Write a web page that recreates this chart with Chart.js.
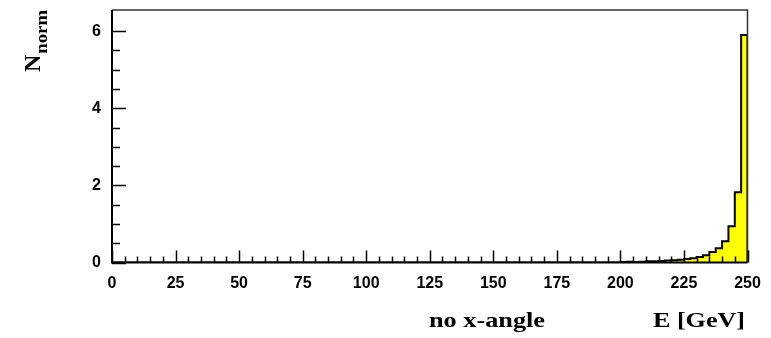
<!DOCTYPE html>
<html>
<head>
<meta charset="utf-8">
<title>E spectrum, no x-angle</title>
<script src="https://cdn.jsdelivr.net/npm/chart.js@4.4.1/dist/chart.umd.min.js"></script>
<style>
  html, body { margin: 0; padding: 0; background: #fff; }
  #wrap { width: 771px; height: 338px; }
</style>
</head>
<body>
<div id="wrap"><canvas id="hist" width="771" height="338"></canvas></div>
<script>
// histogram binning: 100 bins of 2.5 GeV from 0 to 250
const BIN_WIDTH = 2.5;
const X_MIN = 0;
const X_MAX = 250;
const Y_MAX = 6.55;

// normalised counts per bin, bin 0 = [0, 2.5)
const counts = [
  0, 0, 0, 0, 0, 0, 0, 0, 0, 0,
  0, 0, 0, 0, 0, 0, 0, 0, 0, 0,
  0, 0, 0, 0, 0, 0, 0, 0, 0, 0,
  0, 0, 0, 0, 0, 0, 0, 0, 0, 0,
  0, 0, 0, 0, 0, 0, 0, 0, 0, 0,
  0, 0, 0, 0, 0, 0, 0, 0, 0, 0,
  0, 0, 0, 0, 0, 0, 0, 0, 0, 0,
  0, 0, 0, 0, 0, 0, 0, 0, 0, 0,
  0.01, 0.02, 0.01, 0.02, 0.03, 0.03, 0.04, 0.05, 0.06, 0.07,
  0.09, 0.11, 0.14, 0.19, 0.27, 0.37, 0.55, 0.94, 1.82, 5.9,
];

const xTickLabels = [0, 25, 50, 75, 100, 125, 150, 175, 200, 225, 250];
const yTickLabels = [0, 2, 4, 6];

const xTitle = "E [GeV]";
const runLabel = "no x-angle";

const SERIF = "'Liberation Serif', 'DejaVu Serif', serif";
const SANS = "'Liberation Sans', Arial, sans-serif";

// step outline: one point per bin low edge, then close down at the top edge
const outline = counts.map((v, i) => ({ x: X_MIN + i * BIN_WIDTH, y: v }));
outline.push({ x: X_MAX, y: counts[counts.length - 1] });
outline.push({ x: X_MAX, y: 0 });

// draw text squeezed/stretched to span [left, right]
function fitText(ctx, text, left, right, baseline) {
  const w = ctx.measureText(text).width;
  ctx.save();
  ctx.translate(left, baseline);
  ctx.scale((right - left) / w, 1);
  ctx.textAlign = "left";
  ctx.fillText(text, 0, 0);
  ctx.restore();
}

const frameAndTicks = {
  id: "frameAndTicks",
  afterDatasetsDraw(chart) {
    const { ctx, chartArea: a, scales } = chart;
    const xs = scales.x, ys = scales.y;
    ctx.save();

    // top and right frame
    ctx.strokeStyle = "#333";
    ctx.lineWidth = 1.5;
    ctx.beginPath();
    ctx.moveTo(a.left, a.top);
    ctx.lineTo(a.right, a.top);
    ctx.lineTo(a.right, a.bottom);
    ctx.stroke();

    // axes
    ctx.strokeStyle = "#000";
    ctx.lineWidth = 2;
    ctx.beginPath();
    ctx.moveTo(a.left, a.top);
    ctx.lineTo(a.left, a.bottom);
    ctx.lineTo(a.right, a.bottom);
    ctx.stroke();

    // x ticks point up into the frame
    ctx.lineWidth = 1.5;
    ctx.beginPath();
    for (let v = X_MIN; v <= X_MAX; v += 5) {
      const px = Math.round(xs.getPixelForValue(v)) + 0.5;
      const len = v % 25 === 0 ? 12 : 6;
      ctx.moveTo(px, a.bottom);
      ctx.lineTo(px, a.bottom - len);
    }
    // y ticks point right
    for (let v = 0; v <= 6; v += 0.5) {
      const py = Math.round(ys.getPixelForValue(v)) + 0.5;
      const len = v % 2 === 0 ? 14 : 8;
      ctx.moveTo(a.left, py);
      ctx.lineTo(a.left + len, py);
    }
    ctx.stroke();

    // titles under the x axis
    ctx.fillStyle = "#000";
    ctx.textBaseline = "alphabetic";
    ctx.font = "bold 21px " + SERIF;
    fitText(ctx, runLabel, 429, 545, 327);
    fitText(ctx, xTitle, 653, 745, 327);

    // rotated N with subscript "norm"
    ctx.translate(40, 72);
    ctx.rotate(-Math.PI / 2);
    ctx.textAlign = "left";
    ctx.font = "bold 24px " + SERIF;
    ctx.fillText("N", 0, 0);
    const nW = ctx.measureText("N").width;
    ctx.font = "bold 16px " + SERIF;
    fitText(ctx, "norm", nW + 1, 62, 7);

    ctx.restore();
  },
};

new Chart(document.getElementById("hist"), {
  type: "line",
  data: {
    datasets: [{
      data: outline,
      stepped: true,
      borderColor: "#000",
      borderWidth: 2,
      backgroundColor: "#ffff00",
      fill: "origin",
      pointRadius: 0,
      tension: 0,
    }],
  },
  options: {
    responsive: false,
    animation: false,
    devicePixelRatio: 1,
    layout: { padding: { top: 10, right: 23.5, left: 0, bottom: 0 } },
    plugins: { legend: { display: false }, tooltip: { enabled: false } },
    scales: {
      x: {
        type: "linear",
        min: X_MIN,
        max: X_MAX,
        grid: { display: false, drawTicks: false },
        border: { display: false },
        afterBuildTicks: (s) => { s.ticks = xTickLabels.map((v) => ({ value: v })); },
        afterFit: (s) => { s.height = 75.5; s.paddingLeft = 0; s.paddingRight = 0; },
        ticks: {
          padding: 11,
          maxRotation: 0,
          autoSkip: false,
          color: "#000",
          font: { family: SANS, size: 16, weight: "bold" },
        },
      },
      y: {
        min: 0,
        max: Y_MAX,
        grid: { display: false, drawTicks: false },
        border: { display: false },
        afterBuildTicks: (s) => { s.ticks = yTickLabels.map((v) => ({ value: v })); },
        afterFit: (s) => { s.width = 112; s.paddingTop = 0; s.paddingBottom = 0; },
        ticks: {
          padding: 11,
          color: "#000",
          font: { family: SANS, size: 16, weight: "bold" },
        },
      },
    },
  },
  plugins: [frameAndTicks],
});
</script>
</body>
</html>
